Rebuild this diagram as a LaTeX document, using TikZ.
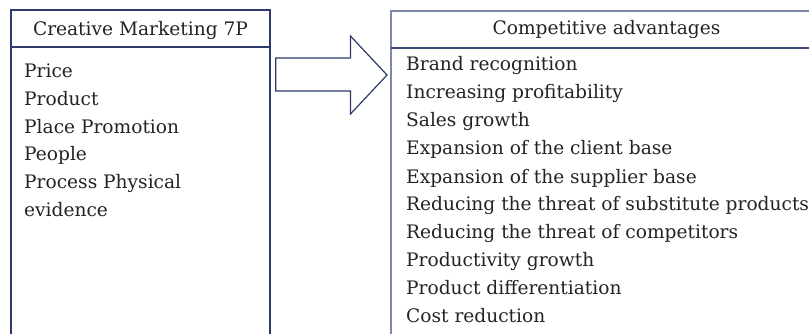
\documentclass[tikz,border=0pt]{standalone}
\usepackage{fontspec}
\setmainfont{DejaVu Serif}
\definecolor{navy}{HTML}{2C3B6B}
\definecolor{paleblue}{HTML}{7C88A8}
\definecolor{headline}{HTML}{3A4A72}
\definecolor{ink}{HTML}{232323}
\tikzset{
  boxline/.style={draw=navy, line width=1.4pt},
  paleline/.style={draw=paleblue, line width=1.4pt},
  headrule/.style={draw=headline, line width=1.6pt},
  item/.style={anchor=base west, inner sep=0pt, text=ink, font=\fontsize{18.6}{22}\selectfont},
  head/.style={anchor=base, inner sep=0pt, text=ink, font=\fontsize{18.6}{22}\selectfont},
  bigarrow/.style={draw=navy, line width=1.2pt, fill=white, line join=miter}
}
\begin{document}
\begin{tikzpicture}[x=1pt, y=-1pt]
\useasboundingbox (0,0) rectangle (809,334);
\clip (0,0) rectangle (809,334);
% left box
\coordinate (lbl) at (11,345);
\coordinate (ltl) at (11,10);
\coordinate (ltr) at (270,10);
\coordinate (lbr) at (270,345);
\draw[boxline] (lbl) -- (ltl) -- (ltr) -- (lbr);
\coordinate (lhl) at (11,47);
\coordinate (lhr) at (270,47);
\draw[boxline] (lhl) -- (lhr);
\node[head] (lhead) at (140.5,36) {Creative Marketing 7P};
\node[item] (l1) at (24,78) {Price};
\node[item] (l2) at (24,105.6) {Product};
\node[item] (l3) at (24,133.2) {Place Promotion};
\node[item] (l4) at (24,160.8) {People};
\node[item] (l5) at (24,188.4) {Process Physical};
\node[item] (l6) at (24,216) {evidence};
% arrow
\coordinate (a1) at (275.7,58);
\coordinate (a2) at (350.5,58);
\coordinate (a3) at (350.5,36);
\coordinate (a4) at (387,75);
\coordinate (a5) at (350.5,114);
\coordinate (a6) at (350.5,91);
\coordinate (a7) at (275.7,91);
\draw[bigarrow] (a1) -- (a2) -- (a3) -- (a4) -- (a5) -- (a6) -- (a7) -- cycle;
% right box
\coordinate (rbl) at (391,345);
\coordinate (rtl) at (391,11);
\coordinate (rtr) at (830,11);
\draw[paleline] (rbl) -- (rtl) -- (rtr);
\coordinate (rhl) at (391,48);
\coordinate (rhr) at (830,48);
\draw[headrule] (rhl) -- (rhr);
\node[head] (rhead) at (606.5,35) {Competitive advantages};
\node[item] (r1) at (406,71) {Brand recognition};
\node[item] (r2) at (406,99) {Increasing profitability};
\node[item] (r3) at (406,127) {Sales growth};
\node[item] (r4) at (406,155) {Expansion of the client base};
\node[item] (r5) at (406,183) {Expansion of the supplier base};
\node[item] (r6) at (406,211) {Reducing the threat of substitute products};
\node[item] (r7) at (406,238.5) {Reducing the threat of competitors};
\node[item] (r8) at (406,266.5) {Productivity growth};
\node[item] (r9) at (406,294) {Product differentiation};
\node[item] (r10) at (406,322) {Cost reduction};
\end{tikzpicture}
\end{document}
